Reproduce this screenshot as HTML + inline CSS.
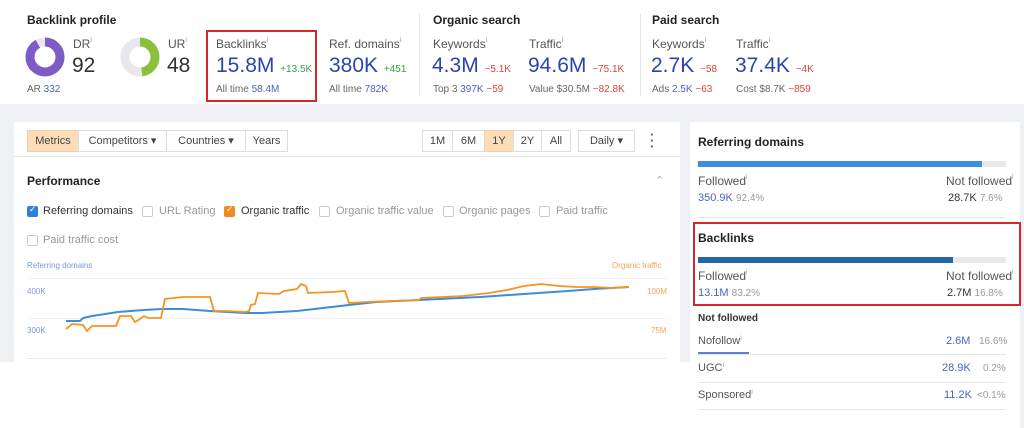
<!DOCTYPE html>
<html><head><meta charset="utf-8"><style>
*{margin:0;padding:0;box-sizing:border-box}
body{width:1024px;height:428px;position:relative;overflow:hidden;background:#fff;font-family:"Liberation Sans",sans-serif;color:#333}
.a{position:absolute;white-space:nowrap}
.b{font-weight:bold;font-size:12px;color:#222}
.lb{font-size:12px;color:#555}
.big{font-size:21px;color:#2a46ad}
.g{color:#3f9d4a;font-size:10px}
.r{color:#d9453d;font-size:10px}
.sm{font-size:10px;color:#666}
.bl{color:#4a64b8}
sup{font-size:7px;color:#999;vertical-align:top}
.btn{position:absolute;top:130px;height:22px;border:1px solid #ddd;font-size:11px;color:#444;line-height:20px;text-align:center;background:#fff}
.cb{position:absolute;width:11px;height:11px;border:1px solid #ccc;border-radius:2px;background:#fff}
.ct{position:absolute;font-size:11px;color:#999}
.hr{position:absolute;height:1px;background:#e6e6e6}
</style></head><body>
<div class="a" style="left:0;top:104px;width:1024px;height:18px;background:#eef0f3"></div>
<div class="a" style="left:0;top:122px;width:14px;height:240px;background:#eef0f3"></div>
<div class="a" style="left:680px;top:122px;width:10px;height:240px;background:#eef0f3"></div>
<div class="a" style="left:1020px;top:122px;width:4px;height:306px;background:#eef0f3"></div>

<div class="a b" style="left:27px;top:13px">Backlink profile</div>
<svg class="a" style="left:24px;top:36px" width="42" height="42"><circle cx="21" cy="21" r="15" fill="none" stroke="#e8e8ec" stroke-width="9"/><circle cx="21" cy="21" r="15" fill="none" stroke="#7e5cc6" stroke-width="9" stroke-dasharray="86.7 94.2" transform="rotate(-90 21 21)"/></svg>
<div class="a lb" style="left:73px;top:37px">DR<sup>i</sup></div>
<div class="a" style="left:72px;top:54px;font-size:21px;color:#333">92</div>
<div class="a sm" style="left:27px;top:84px">AR <span class="bl">332</span></div>
<svg class="a" style="left:119px;top:36px" width="42" height="42"><circle cx="21" cy="21" r="15" fill="none" stroke="#e8e8ec" stroke-width="9"/><circle cx="21" cy="21" r="15" fill="none" stroke="#8cbf3a" stroke-width="9" stroke-dasharray="45.2 94.2" transform="rotate(-90 21 21)"/></svg>
<div class="a lb" style="left:168px;top:37px">UR<sup>i</sup></div>
<div class="a" style="left:167px;top:54px;font-size:21px;color:#333">48</div>

<div class="a" style="left:206px;top:30px;width:111px;height:72px;border:2px solid #d9262b"></div>
<div class="a lb" style="left:216px;top:37px">Backlinks<sup>i</sup></div>
<div class="a big" style="left:216px;top:54px">15.8M <span class="g">+13.5K</span></div>
<div class="a sm" style="left:216px;top:84px">All time <span class="bl">58.4M</span></div>
<div class="a lb" style="left:329px;top:37px">Ref. domains<sup>i</sup></div>
<div class="a big" style="left:329px;top:54px">380K <span class="g">+451</span></div>
<div class="a sm" style="left:329px;top:84px">All time <span class="bl">782K</span></div>
<div class="a" style="left:419px;top:14px;width:1px;height:82px;background:#e4e4e4"></div>
<div class="a b" style="left:433px;top:13px">Organic search</div>
<div class="a lb" style="left:433px;top:37px">Keywords<sup>i</sup></div>
<div class="a big" style="left:432px;top:54px">4.3M <span class="r">−5.1K</span></div>
<div class="a sm" style="left:433px;top:84px">Top 3 <span class="bl">397K</span> <span class="r">−59</span></div>
<div class="a lb" style="left:529px;top:37px">Traffic<sup>i</sup></div>
<div class="a big" style="left:528px;top:54px">94.6M <span class="r">−75.1K</span></div>
<div class="a sm" style="left:529px;top:84px">Value $30.5M <span class="r">−82.8K</span></div>
<div class="a" style="left:640px;top:14px;width:1px;height:82px;background:#e4e4e4"></div>
<div class="a b" style="left:652px;top:13px">Paid search</div>
<div class="a lb" style="left:652px;top:37px">Keywords<sup>i</sup></div>
<div class="a big" style="left:651px;top:54px">2.7K <span class="r">−58</span></div>
<div class="a sm" style="left:652px;top:84px">Ads <span class="bl">2.5K</span> <span class="r">−63</span></div>
<div class="a lb" style="left:736px;top:37px">Traffic<sup>i</sup></div>
<div class="a big" style="left:735px;top:54px">37.4K <span class="r">−4K</span></div>
<div class="a sm" style="left:736px;top:84px">Cost $8.7K <span class="r">−859</span></div>

<div class="btn" style="left:27px;width:52px;background:#fddcb8;border-color:#f6d0a8">Metrics</div>
<div class="btn" style="left:78px;width:89px">Competitors ▾</div>
<div class="btn" style="left:166px;width:80px">Countries ▾</div>
<div class="btn" style="left:245px;width:43px">Years</div>
<div class="btn" style="left:422px;width:31px">1M</div>
<div class="btn" style="left:452px;width:33px">6M</div>
<div class="btn" style="left:484px;width:30px;background:#fddcb8;border-color:#f6d0a8">1Y</div>
<div class="btn" style="left:513px;width:29px">2Y</div>
<div class="btn" style="left:541px;width:30px">All</div>
<div class="btn" style="left:578px;width:57px">Daily ▾</div>
<div class="a" style="left:650px;top:132px;font-size:13px;color:#555;font-weight:bold;line-height:6px">·<br>·<br>·</div>
<div class="hr" style="left:14px;top:156px;width:666px"></div>
<div class="a b" style="left:27px;top:174px">Performance</div>
<div class="a" style="left:655px;top:174px;font-size:11px;color:#aaa">⌃</div>

<div class="cb" style="left:27px;top:206px;background:#2f80d8;border-color:#2f80d8"></div><div class="a" style="left:29px;top:204px;font-size:9px;color:#fff">✓</div>
<div class="ct" style="left:43px;top:205px;color:#333">Referring domains</div>
<div class="cb" style="left:142px;top:206px"></div><div class="ct" style="left:159px;top:205px">URL Rating</div>
<div class="cb" style="left:224px;top:206px;background:#f08a24;border-color:#f08a24"></div><div class="a" style="left:226px;top:204px;font-size:9px;color:#fff">✓</div>
<div class="ct" style="left:241px;top:205px;color:#333">Organic traffic</div>
<div class="cb" style="left:319px;top:206px"></div><div class="ct" style="left:336px;top:205px">Organic traffic value</div>
<div class="cb" style="left:443px;top:206px"></div><div class="ct" style="left:459px;top:205px">Organic pages</div>
<div class="cb" style="left:539px;top:206px"></div><div class="ct" style="left:556px;top:205px">Paid traffic</div>
<div class="cb" style="left:27px;top:235px"></div><div class="ct" style="left:43px;top:234px">Paid traffic cost</div>

<div class="a" style="left:27px;top:261px;font-size:8px;color:#7d98d6">Referring domains</div>
<div class="a" style="left:612px;top:261px;font-size:8px;color:#f5a25a">Organic traffic</div>
<div class="a" style="left:27px;top:287px;font-size:8px;color:#7d98d6">400K</div>
<div class="a" style="left:27px;top:326px;font-size:8px;color:#7d98d6">300K</div>
<div class="a" style="left:647px;top:287px;font-size:8px;color:#f5a25a">100M</div>
<div class="a" style="left:651px;top:326px;font-size:8px;color:#f5a25a">75M</div>
<div class="hr" style="left:27px;top:278px;width:640px;background:#f0f0f0"></div>
<div class="hr" style="left:27px;top:318px;width:640px;background:#f0f0f0"></div>
<div class="hr" style="left:27px;top:358px;width:640px;background:#eaeaea"></div>
<svg class="a" style="left:0;top:0" width="680" height="400">
<polyline fill="none" stroke="#3a8ddb" stroke-width="2" points="66,321 80,321 83,318 92,316 118,312 144,310 162,309 183,309 210,311 245,313 262,313 297,311 323,308 349,305 376,302 419,300 480,297 524,294 568,291 594,289 629,287"/>
<polyline fill="none" stroke="#f7941d" stroke-width="1.8" points="66,329 72,324 83,325 87,331 92,326 116,326 120,316 131,316 135,322 140,319 144,316 148,318 157,318 161,318 165,299 183,297 210,297 214,311 227,311 245,312 249,311 251,305 255,304 258,293 279,294 284,291 297,289 301,284 306,286 308,293 332,292 345,291 349,303 367,302 393,301 419,300 421,298 463,296 489,293 507,290 524,286 541,284 559,286 576,287 594,287 611,288 629,287"/>
</svg>

<div class="a b" style="left:698px;top:135px">Referring domains</div>
<div class="a" style="left:698px;top:161px;width:308px;height:6px;background:#e8e9ec"></div>
<div class="a" style="left:698px;top:161px;width:284px;height:6px;background:#3b8fe0"></div>
<div class="a lb" style="left:698px;top:174px">Followed<sup>i</sup></div>
<div class="a lb" style="left:946px;top:174px">Not followed<sup>i</sup></div>
<div class="a" style="left:698px;top:192px;font-size:11px"><span class="bl">350.9K</span> <span style="font-size:10px;color:#999">92.4%</span></div>
<div class="a" style="left:948px;top:192px;font-size:11px;color:#333">28.7K <span style="font-size:10px;color:#999">7.6%</span></div>
<div class="hr" style="left:698px;top:217px;width:308px"></div>
<div class="a" style="left:693px;top:222px;width:328px;height:84px;border:2px solid #d9262b"></div>
<div class="a b" style="left:698px;top:231px">Backlinks</div>
<div class="a" style="left:698px;top:257px;width:308px;height:6px;background:#e8e9ec"></div>
<div class="a" style="left:698px;top:257px;width:255px;height:6px;background:#2665a6"></div>
<div class="a lb" style="left:698px;top:269px">Followed<sup>i</sup></div>
<div class="a lb" style="left:946px;top:269px">Not followed<sup>i</sup></div>
<div class="a" style="left:698px;top:287px;font-size:11px"><span class="bl">13.1M</span> <span style="font-size:10px;color:#999">83.2%</span></div>
<div class="a" style="left:947px;top:287px;font-size:11px;color:#333">2.7M <span style="font-size:10px;color:#999">16.8%</span></div>
<div class="a" style="left:698px;top:313px;font-size:10px;font-weight:bold;color:#333">Not followed</div>
<div class="a lb" style="left:698px;top:335px;font-size:11px">Nofollow<sup>i</sup></div>
<div class="a" style="left:946px;top:335px;font-size:11px"><span class="bl">2.6M</span></div>
<div class="a" style="left:979px;top:336px;font-size:10px;color:#999">16.6%</div>
<div class="hr" style="left:698px;top:354px;width:308px"></div>
<div class="a" style="left:698px;top:352px;width:51px;height:2px;background:#5b83cf"></div>
<div class="a lb" style="left:698px;top:362px;font-size:11px">UGC<sup>i</sup></div>
<div class="a" style="left:942px;top:362px;font-size:11px"><span class="bl">28.9K</span></div>
<div class="a" style="left:983px;top:363px;font-size:10px;color:#999">0.2%</div>
<div class="hr" style="left:698px;top:382px;width:308px"></div>
<div class="a lb" style="left:698px;top:389px;font-size:11px">Sponsored<sup>i</sup></div>
<div class="a" style="left:944px;top:389px;font-size:11px"><span class="bl">11.2K</span></div>
<div class="a" style="left:977px;top:390px;font-size:10px;color:#999">&lt;0.1%</div>
<div class="hr" style="left:698px;top:409px;width:308px"></div>
</body></html>
